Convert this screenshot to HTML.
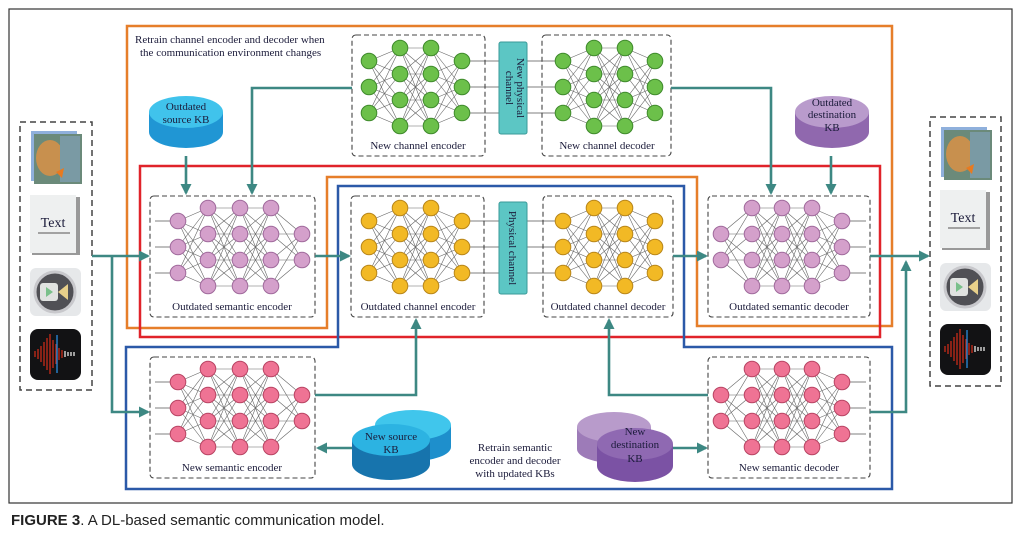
<!DOCTYPE html>
<html><head><meta charset="utf-8"><style>
body{margin:0;background:#fff;width:1034px;height:534px;overflow:hidden}
svg{display:block}
text{font-family:"Liberation Serif",serif;fill:#1b1b3a}
</style></head><body>
<svg id="s" width="1034" height="534" viewBox="0 0 1034 534" xmlns="http://www.w3.org/2000/svg">
<defs>
<marker id="ah" markerWidth="11" markerHeight="11" refX="9" refY="5.5" orient="auto" markerUnits="userSpaceOnUse">
<path d="M0,0 L11,5.5 L0,11 z" fill="#3d8883"/></marker>
</defs>
<rect x="9" y="9" width="1003" height="494" fill="none" stroke="#333" stroke-width="1.2"/>
<text x="11" y="525" style="font-family:'Liberation Sans',sans-serif;font-size:15px;fill:#222"><tspan font-weight="bold">FIGURE 3</tspan>. A DL-based semantic communication model.</text>

<polygon points="127,26 892,26 892,326 697,326 697,177 327,177 327,328 127,328" fill="none" stroke="#e67e2a" stroke-width="2.5"/>
<rect x="140" y="166" width="740" height="171" fill="none" stroke="#e0232a" stroke-width="2.5"/>
<polygon points="338,186 684,186 684,347 892,347 892,489 126,489 126,347 338,347" fill="none" stroke="#2b59a8" stroke-width="2.5"/>

<text x="135" y="43" font-size="11">Retrain channel encoder and decoder when</text>
<text x="140" y="56" font-size="11">the communication environment changes</text>

<g id="nets"></g>

<g fill="none" stroke="#444" stroke-width="1.1" stroke-dasharray="5,3">
<rect x="352" y="35" width="133" height="121" rx="4"/>
<rect x="542" y="35" width="129" height="121" rx="4"/>
<rect x="150" y="196" width="165" height="121" rx="4"/>
<rect x="351" y="196" width="133" height="121" rx="4"/>
<rect x="543" y="196" width="130" height="121" rx="4"/>
<rect x="708" y="196" width="162" height="121" rx="4"/>
<rect x="150" y="357" width="165" height="121" rx="4"/>
<rect x="708" y="357" width="162" height="121" rx="4"/>
<rect x="20" y="122" width="72" height="268" stroke-width="1.5" stroke-dasharray="6,4"/>
<rect x="930" y="117" width="71" height="269" stroke-width="1.5" stroke-dasharray="6,4"/>
</g>

<rect x="499" y="42" width="28" height="92" rx="2" fill="#5cc6c4" stroke="#3a9a98"/>
<text transform="translate(517,88) rotate(90)" font-size="11" text-anchor="middle">New physical</text>
<text transform="translate(506,88) rotate(90)" font-size="11" text-anchor="middle">channel</text>
<rect x="499" y="202" width="28" height="92" rx="2" fill="#5cc6c4" stroke="#3a9a98"/>
<text transform="translate(513,248) rotate(90)" font-size="11" text-anchor="middle" dy="4">Physical channel</text>

<g font-size="11" text-anchor="middle">
<text x="418" y="149">New channel encoder</text>
<text x="607" y="149">New channel decoder</text>
<text x="232" y="310">Outdated semantic encoder</text>
<text x="418" y="310">Outdated channel encoder</text>
<text x="608" y="310">Outdated channel decoder</text>
<text x="789" y="310">Outdated semantic decoder</text>
<text x="232" y="471">New semantic encoder</text>
<text x="789" y="471">New semantic decoder</text>
<text x="515" y="451">Retrain semantic</text>
<text x="515" y="464">encoder and decoder</text>
<text x="515" y="477">with updated KBs</text>
</g>

<g>
<path d="M149,112 v20 a37,16 0 0 0 74,0 v-20z" fill="#2096d4"/>
<ellipse cx="186" cy="112" rx="37" ry="16" fill="#40c3ec"/>
<text x="186" y="110" font-size="11" text-anchor="middle">Outdated</text>
<text x="186" y="123" font-size="11" text-anchor="middle">source KB</text>

<path d="M795,112 v20 a37,16 0 0 0 74,0 v-20z" fill="#9068ae"/>
<ellipse cx="832" cy="112" rx="37" ry="16" fill="#b99bcc"/>
<text x="832" y="106" font-size="11" text-anchor="middle">Outdated</text>
<text x="832" y="118" font-size="11" text-anchor="middle">destination</text>
<text x="832" y="131" font-size="11" text-anchor="middle">KB</text>

<path d="M375,425 v22 a38,14 0 0 0 76,0 v-22z" fill="#1e8fcc"/>
<ellipse cx="413" cy="425" rx="38" ry="15" fill="#40c6ec"/>
<path d="M352,440 v24 a39,16 0 0 0 78,0 v-24z" fill="#1774ad"/>
<ellipse cx="391" cy="440" rx="39" ry="16" fill="#2cb3e2"/>
<text x="391" y="440" font-size="11" text-anchor="middle">New source</text>
<text x="391" y="453" font-size="11" text-anchor="middle">KB</text>

<path d="M577,427 v22 a37,14 0 0 0 74,0 v-22z" fill="#9d7bb8"/>
<ellipse cx="614" cy="427" rx="37" ry="15" fill="#b89bcb"/>
<path d="M597,444 v22 a38,16 0 0 0 76,0 v-22z" fill="#7b52a4"/>
<ellipse cx="635" cy="444" rx="38" ry="16" fill="#8f69b2"/>
<text x="635" y="435" font-size="11" text-anchor="middle">New</text>
<text x="635" y="448" font-size="11" text-anchor="middle">destination</text>
<text x="635" y="462" font-size="11" text-anchor="middle">KB</text>
</g>

<g fill="none" stroke="#3d8883" stroke-width="2.6" marker-end="url(#ah)">
<path d="M92,256 H148"/>
<path d="M112,256 V412 H148"/>
<path d="M186,156 V193"/>
<path d="M352,88 H252 V193"/>
<path d="M315,256 H349"/>
<path d="M671,88 H771 V193"/>
<path d="M831,156 V193"/>
<path d="M673,256 H706"/>
<path d="M870,256 H928"/>
<path d="M870,412 H906 V262"/>
<path d="M315,395 H416 V320"/>
<path d="M708,395 H609 V320"/>
<path d="M352,448 H318"/>
<path d="M673,448 H706"/>
</g>

<g id="media"></g>
</svg>
<script>
var NS="http://www.w3.org/2000/svg";
var g=document.getElementById('nets');
function el(t,a,p){var e=document.createElementNS(NS,t);for(var k in a)e.setAttribute(k,a[k]);(p||g).appendChild(e);return e;}
function net(xs,ys,fill,stroke,inL,outL){
  for(var i=0;i<xs.length-1;i++)for(var a=0;a<ys[i].length;a++)for(var b=0;b<ys[i+1].length;b++)
    el('line',{x1:xs[i],y1:ys[i][a],x2:xs[i+1],y2:ys[i+1][b],stroke:'#666','stroke-width':0.6});
  if(inL!=null)ys[0].forEach(function(y){el('line',{x1:inL,y1:y,x2:xs[0],y2:y,stroke:'#999','stroke-width':1.2});});
  var L=xs.length-1;
  if(outL!=null)ys[L].forEach(function(y){el('line',{x1:xs[L],y1:y,x2:outL,y2:y,stroke:'#999','stroke-width':1.2});});
  for(var i=0;i<xs.length;i++)ys[i].forEach(function(y){el('circle',{cx:xs[i],cy:y,r:7.8,fill:fill,stroke:stroke,'stroke-width':1});});
}
function s3(o){return [221+o,247+o,273+o];}
function s4(o){return [208+o,234+o,260+o,286+o];}
function s2(o){return [234+o,260+o];}
var PU='#d4a0cb',PUs='#a06a9c',YE='#f2b925',YEs='#b8861a',GR='#6cc04a',GRs='#3f8a2c',PK='#ef7394',PKs='#b84463';
net([178,208,240,271,302],[s3(0),s4(0),s4(0),s4(0),s2(0)],PU,PUs,155,null);
net([369,400,431,462],[s3(0),s4(0),s4(0),s3(0)],YE,YEs,null,499);
net([563,594,625,655],[s3(0),s4(0),s4(0),s3(0)],YE,YEs,527,null);
net([721,752,782,812,842],[s2(0),s4(0),s4(0),s4(0),s3(0)],PU,PUs,null,866);
net([369,400,431,462],[s3(-160),s4(-160),s4(-160),s3(-160)],GR,GRs,null,499);
net([563,594,625,655],[s3(-160),s4(-160),s4(-160),s3(-160)],GR,GRs,527,null);
net([178,208,240,271,302],[s3(161),s4(161),s4(161),s4(161),s2(161)],PK,PKs,155,null);
net([721,752,782,812,842],[s2(161),s4(161),s4(161),s4(161),s3(161)],PK,PKs,null,866);

var m=document.getElementById('media');
function media(x,y0,ty,vy,ay){
  el('rect',{x:x+1,y:y0-3,width:46,height:50,fill:'#8fb0dc'},m);
  el('rect',{x:x+4,y:y0,width:48,height:50,fill:'#6b8a7a'},m);
  el('ellipse',{cx:x+20,cy:y0+24,rx:14,ry:18,fill:'#c8904e'},m);
  el('rect',{x:x+30,y:y0+2,width:20,height:46,fill:'#7a9aa4'},m);
  el('path',{d:'M'+(x+26)+','+(y0+38)+' l8,-4 l-2,10z',fill:'#e87a20'},m);
  el('rect',{x:x+2,y:ty,width:48,height:58,fill:'#999'},m);
  el('rect',{x:x,y:ty-2,width:46,height:58,fill:'#eef0f0'},m);
  el('line',{x1:x+8,y1:ty+36,x2:x+40,y2:ty+36,stroke:'#555'},m);
  var t=el('text',{x:x+23,y:ty+30,'font-size':14,'text-anchor':'middle'},m);t.textContent='Text';
  el('rect',{x:x,y:vy,width:51,height:48,rx:6,fill:'#e6e8ea'},m);
  el('circle',{cx:x+25,cy:vy+24,r:20,fill:'#505055',stroke:'#c8c8cc','stroke-width':3},m);
  el('rect',{x:x+10,y:vy+15,width:18,height:18,rx:3,fill:'#e0e2e0'},m);
  el('path',{d:'M'+(x+16)+','+(vy+19)+' l7,5 l-7,5z',fill:'#7ac08a'},m);
  el('path',{d:'M'+(x+28)+','+(vy+24)+' l10,-8 v16z',fill:'#e8d08a'},m);
  el('rect',{x:x,y:ay,width:51,height:51,rx:8,fill:'#121214'},m);
  for(var i=0;i<14;i++){var h=[3,5,8,12,16,20,14,10,6,4,3,2,2,2][i];el('line',{x1:x+5+i*3,y1:ay+25-h,x2:x+5+i*3,y2:ay+25+h,stroke:i<10?'#b02818':'#ccc','stroke-width':1.5},m);}
  el('line',{x1:x+27,y1:ay+6,x2:x+27,y2:ay+44,stroke:'#2a8ee0','stroke-width':1.3},m);
}
media(30,134,197,268,329);
media(940,130,192,263,324);
</script>
</body></html>
